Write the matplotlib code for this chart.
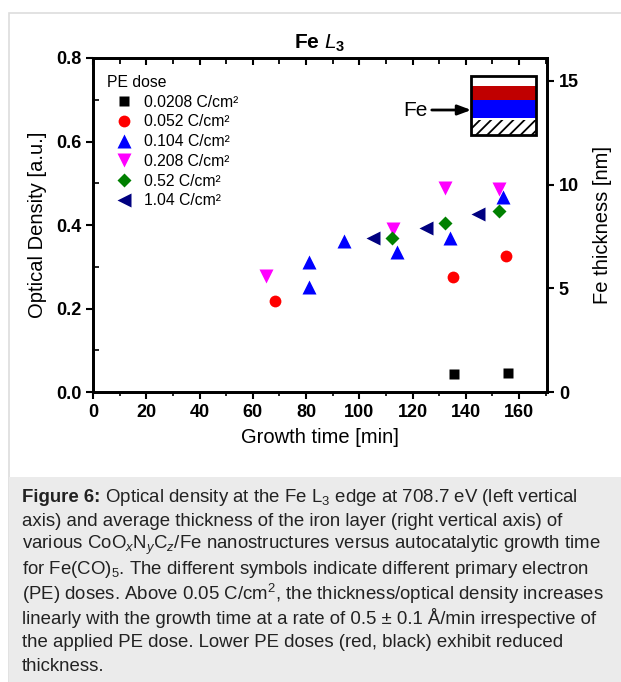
import matplotlib.pyplot as plt
from matplotlib.patches import Rectangle

plt.rcParams['font.family'] = ['Liberation Sans', 'DejaVu Sans']
plt.rcParams['mathtext.fontset'] = 'custom'
plt.rcParams['mathtext.rm'] = 'Liberation Sans'
plt.rcParams['mathtext.it'] = 'Liberation Sans:italic'
plt.rcParams['mathtext.bf'] = 'Liberation Sans:bold'
plt.rcParams['hatch.linewidth'] = 1.3

# data: growth time [min] vs optical density [a.u.]
doses = ['0.0208 C/cm²', '0.052 C/cm²', '0.104 C/cm²', '0.208 C/cm²', '0.52 C/cm²', '1.04 C/cm²']
t_0208 = [135.5, 155.9]
od_0208 = [0.043, 0.046]
t_052 = [68.5, 135.2, 155.1]
od_052 = [0.218, 0.275, 0.326]
t_104 = [81, 81, 94.1, 114.1, 134, 154]
od_104 = [0.312, 0.252, 0.362, 0.335, 0.369, 0.467]
t_208 = [65.1, 112.6, 132.2, 152.5]
od_208 = [0.278, 0.390, 0.489, 0.486]
t_52 = [112.2, 132.2, 152.5]
od_52 = [0.369, 0.405, 0.434]
t_104b = [105, 125, 144.6]
od_104b = [0.369, 0.393, 0.426]

series = [(t_0208, od_0208, 's', 'black', 7),
          (t_052, od_052, 'o', 'red', 8.5),
          (t_104, od_104, '^', 'blue', 10),
          (t_208, od_208, 'v', 'magenta', 10),
          (t_52, od_52, 'D', 'green', 7.5),
          (t_104b, od_104b, '<', 'navy', 10)]

fig = plt.figure(figsize=(6.21, 6.82), dpi=100)

# card border and caption background
fig.patches.append(Rectangle((9 / 621, 0), 1, 1 - 13 / 682, transform=fig.transFigure,
                             fill=False, edgecolor='#dddddd', lw=1.2))
fig.patches.append(Rectangle((9 / 621, 0), 1, 205 / 682, transform=fig.transFigure,
                             facecolor='#ebebeb', edgecolor='none'))

ax = fig.add_axes([93 / 621, 1 - 392 / 682, 454 / 621, 334 / 682])
for (x, y, m, c, ms), lab in zip(series, doses):
    ax.plot(x, y, ls='none', marker=m, color=c, ms=ms, mec='none', label=lab)

xmax = 170.5
ax.set_xlim(0, xmax)
ax.set_ylim(0, 0.8)
ax.set_xticks(range(0, 161, 20))
ax.set_xticks(range(10, 171, 20), minor=True)
ax.set_yticks([0.0, 0.2, 0.4, 0.6, 0.8])
ax.set_yticks([0.1, 0.3, 0.5, 0.7], minor=True)
ax.set_yticklabels(['0.0', '0.2', '0.4', '0.6', '0.8'])
ax.tick_params(which='major', direction='out', length=5, width=1.5, labelsize=13)
ax.tick_params(axis='x', which='minor', direction='out', length=3, width=1.2)
ax.tick_params(axis='y', which='minor', direction='in', length=4, width=1.2)
for t in ax.get_xticklabels() + ax.get_yticklabels():
    t.set_fontweight('bold')
for s in ax.spines.values():
    s.set_linewidth(1.8)

ax.set_xlabel('Growth time [min]', fontsize=14.5, labelpad=5)
ax.set_ylabel('Optical Density [a.u.]', fontsize=14.5, labelpad=6)
ax.set_title(r'Fe $\mathbf{\mathit{L}_3}$', fontsize=15, fontweight='bold', pad=7)

ax2 = ax.twinx()
ax2.set_ylim(0, 16.1)
ax2.set_yticks([0, 5, 10, 15])
ax2.tick_params(direction='out', length=5, width=1.5, labelsize=13)
for t in ax2.get_yticklabels():
    t.set_fontweight('bold')
ax2.set_ylabel('Fe thickness [nm]', fontsize=14.5, labelpad=10)
for s in ax2.spines.values():
    s.set_linewidth(1.8)

# top ticks pointing inward
ax3 = ax.twiny()
ax3.set_xlim(0, xmax)
ax3.xaxis.set_ticks_position('top')
ax3.set_xticks(range(0, 171, 20))
ax3.set_xticks(range(10, 171, 20), minor=True)
ax3.tick_params(axis='x', which='major', direction='in', length=5, width=1.5,
                top=True, bottom=False, labeltop=False, labelbottom=False)
ax3.tick_params(axis='x', which='minor', direction='in', length=4, width=1.3,
                top=True, bottom=False)
ax3.tick_params(axis='y', left=False, right=False, labelleft=False, labelright=False)
for s in ax3.spines.values():
    s.set_linewidth(1.8)

leg = ax.legend(loc='upper left', frameon=False, title='PE dose', fontsize=11.3,
                title_fontsize=11.3, handletextpad=0.15, labelspacing=0.3,
                borderaxespad=0, borderpad=0, handlelength=2.2,
                bbox_to_anchor=(14 / 454, 1 - 17 / 334))
leg._legend_box.align = 'left'

# layer sketch inset
bx, bw = 471 / 621, 65 / 621
layers = [(76, 86, 'white', None), (86, 100, '#c00000', None),
          (100, 118, '#0000ff', None), (120, 135, 'white', '///')]
for y0, y1, fc, h in layers:
    fig.patches.append(Rectangle((bx, 1 - y1 / 682), bw, (y1 - y0) / 682,
                                 transform=fig.transFigure, facecolor=fc,
                                 edgecolor='black' if h else 'none', hatch=h, lw=0))
fig.patches.append(Rectangle((bx, 1 - 135 / 682), bw, 59 / 682, transform=fig.transFigure,
                             fill=False, edgecolor='black', lw=2))
fig.text(403 / 621, 1 - 110 / 682, 'Fe', fontsize=15, va='center', ha='left')
ax.annotate('', xy=(474 / 621, 1 - 110 / 682), xytext=(429 / 621, 1 - 110 / 682),
            xycoords='figure fraction',
            arrowprops=dict(arrowstyle='-|>,head_length=0.8,head_width=0.3', color='black', lw=2))

caption = [
    r' Optical density at the Fe L$_3$ edge at 708.7 eV (left vertical',
    'axis) and average thickness of the iron layer (right vertical axis) of',
    r'various CoO$_x$N$_y$C$_z$/Fe nanostructures versus autocatalytic growth time',
    r'for Fe(CO)$_5$. The different symbols indicate different primary electron',
    r'(PE) doses. Above 0.05 C/cm$^2$, the thickness/optical density increases',
    'linearly with the growth time at a rate of 0.5 ± 0.1 Å/min irrespective of',
    'the applied PE dose. Lower PE doses (red, black) exhibit reduced',
    'thickness.',
]
cap_fs = 13.4
renderer = fig.canvas.get_renderer()
x0 = 22 / 621
for i, line in enumerate(caption):
    y = 1 - (497 + 24.2 * i) / 682
    x = x0
    if i == 0:
        b = fig.text(x0, y, 'Figure 6:', fontsize=cap_fs, fontweight='bold', va='center',
                     ha='left', color='#222222')
        x = b.get_window_extent(renderer).x1 / fig.bbox.width
    fig.text(x, y, line, fontsize=cap_fs, va='center', ha='left', color='#222222')

fig.savefig('out.png', dpi=100)
